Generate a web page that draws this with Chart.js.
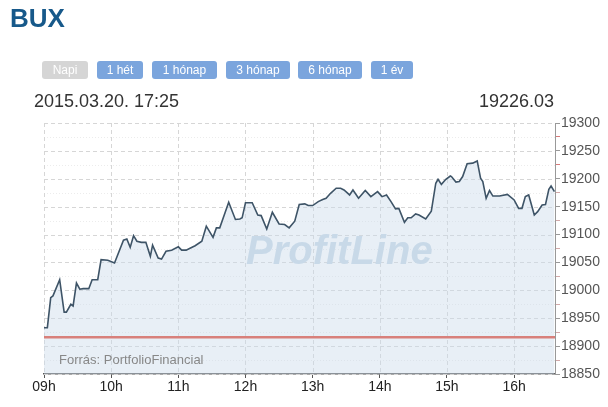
<!DOCTYPE html>
<html><head><meta charset="utf-8">
<script src="https://cdn.jsdelivr.net/npm/chart.js@4.4.1/dist/chart.umd.min.js"></script>
<style>
html,body{margin:0;padding:0;background:#fff;width:608px;height:407px;overflow:hidden;font-family:"Liberation Sans",Arial,sans-serif;}
#c{position:absolute;left:0;top:0;}
.t{position:absolute;white-space:nowrap;}
#bux{left:10px;top:5px;font-size:26px;line-height:26px;font-weight:bold;color:#17598a;}
.btn{position:absolute;top:61px;height:18px;line-height:18px;border-radius:3px;background:#7ba5dd;color:#fff;font-size:12px;text-align:center;}
.btn.off{background:#d5d5d5;}
#date{left:34px;top:92px;font-size:18px;line-height:18px;color:#333;}
#val{right:54px;top:92px;font-size:18px;line-height:18px;color:#333;}
#wm{left:246px;top:230px;font-size:40px;line-height:40px;font-weight:bold;font-style:italic;color:#c8d9e8;}
#src{left:59px;top:353px;font-size:13px;line-height:13px;color:#888;}
</style>
</head><body>
<canvas id="c" width="608" height="407"></canvas>
<div class="t" id="bux">BUX</div>
<div id="btns"></div>
<div class="t" id="date">2015.03.20. 17:25</div>
<div class="t" id="val">19226.03</div>
<div class="t" id="wm">ProfitLine</div>
<div class="t" id="src">Forrás: PortfolioFinancial</div>
<script>
// ---- data ----
const timeMinutes = [0,3,6,8,14,18,20,24,26,29,32,35,40,43,48,51,57,63,71,74,77,80,83,87,91,95,97,102,105,109,114,120,123,127,130,135,141,145,151,154,157,165,171,175,177,180,186,191,194,199,204,210,215,219,224,228,233,236,240,245,249,252,256,261,265,268,273,276,281,287,292,298,302,306,310,314,317,322,325,328,332,335,341,346,350,352,355,359,363,364,368,371,374,378,383,387,390,392,395,398,401,407,414,420,424,427,430,433,438,441,445,448,451,453,456];
const buxValues = [18933,18933,18987,18990,19019,18961,18961,18975,18972,19013,19002,19003,19003,19019,19019,19055,19054,19049,19090,19092,19077,19098,19088,19086,19086,19061,19081,19058,19056,19070,19072,19078,19072,19072,19075,19080,19088,19115,19095,19112,19112,19158,19127,19128,19130,19157,19157,19135,19134,19110,19140,19119,19118,19112,19124,19154,19155,19152,19152,19159,19163,19165,19174,19183,19183,19180,19171,19180,19165,19179,19168,19177,19168,19171,19159,19146,19147,19122,19130,19130,19137,19135,19128,19142,19192,19199,19190,19199,19205,19204,19194,19195,19204,19227,19228,19232,19201,19195,19165,19179,19169,19169,19172,19162,19147,19147,19168,19171,19135,19141,19153,19154,19181,19187,19177];
const prevClose = 18916;
const xMaxMinutes = 456.5;
const hourTicks = [0,60,120,180,240,300,360,420];
const hourLabels = ['09h','10h','11h','12h','13h','14h','15h','16h'];
const yMin = 18850, yMax = 19300;
const yTickValues = [18850,18875,18900,18925,18950,18975,19000,19025,19050,19075,19100,19125,19150,19175,19200,19225,19250,19275,19300];
const buttonLabels = ['Napi','1 hét','1 hónap','3 hónap','6 hónap','1 év'];
const buttonLeft = [42,97,152,226,298,371];
const buttonWidth = [46,46,65,64,64,42];

// buttons
const bc = document.getElementById('btns');
buttonLabels.forEach((l,i)=>{
  const d=document.createElement('div');
  d.className='btn'+(i===0?' off':'');
  d.style.left=buttonLeft[i]+'px'; d.style.width=buttonWidth[i]+'px';
  d.textContent=l; bc.appendChild(d);
});

const gridPlugin = {
  id:'gridPlugin',
  beforeDatasetsDraw(chart){
    const {ctx, chartArea:a, scales:{x,y}} = chart;
    ctx.save();
    ctx.lineWidth=1;
    yTickValues.forEach(v=>{
      const py=Math.round(y.getPixelForValue(v))+0.5;
      const major = v%50===0;
      ctx.strokeStyle = major ? '#d6d6d6' : '#ececec';
      ctx.setLineDash(major ? [4,3] : [1,2]);
      ctx.beginPath(); ctx.moveTo(a.left,py); ctx.lineTo(a.right,py); ctx.stroke();
    });
    hourTicks.forEach(v=>{
      const px=Math.round(x.getPixelForValue(v))+0.5;
      ctx.strokeStyle='#d6d6d6'; ctx.setLineDash([4,3]);
      ctx.beginPath(); ctx.moveTo(px,a.top); ctx.lineTo(px,a.bottom); ctx.stroke();
    });
    ctx.restore();
  }
};

new Chart(document.getElementById('c'), {
  type:'line',
  data:{datasets:[
    {data:timeMinutes.map((t,i)=>({x:t,y:buxValues[i]})), borderColor:'#3e5467', borderWidth:1.6,
     fill:'start', backgroundColor:'rgba(204,219,235,0.45)', pointRadius:0, tension:0, order:1},
    {data:[{x:0,y:prevClose},{x:xMaxMinutes,y:prevClose}], borderColor:'#d8807b', borderWidth:2.5,
     fill:false, pointRadius:0, order:0}
  ]},
  options:{
    responsive:false, animation:false,
    layout:{padding:{left:44,top:123,right:0,bottom:0}},
    plugins:{legend:{display:false}, tooltip:{enabled:false}},
    scales:{
      x:{type:'linear', min:0, max:xMaxMinutes,
        afterBuildTicks:s=>{s.ticks=hourTicks.map(v=>({value:v}));},
        afterFit:s=>{s.height=33;},
        ticks:{autoSkip:false, maxRotation:0, padding:1, color:'#222',
          font:{family:'"Liberation Sans", Arial, sans-serif', size:14},
          callback:v=>hourLabels[hourTicks.indexOf(v)]},
        grid:{drawOnChartArea:false, drawTicks:true, tickLength:4, tickColor:'#555'},
        border:{display:true, color:'#555', width:1.5}
      },
      y:{type:'linear', position:'right', min:yMin, max:yMax,
        afterBuildTicks:s=>{s.ticks=yTickValues.map(v=>({value:v}));},
        afterFit:s=>{s.width=53;},
        ticks:{autoSkip:false, padding:1, color:'#555',
          font:{family:'"Liberation Sans", Arial, sans-serif', size:14},
          callback:v=> v%50===0 ? String(v) : ''},
        grid:{drawOnChartArea:false, drawTicks:true, tickLength:5,
          tickColor:c=> (c.tick && c.tick.value%50!==0) ? (c.tick.value>19200 ? '#d77a7a' : '#d2a9a9') : '#999'},
        border:{display:true, color:'#999', width:1}
      }
    }
  },
  plugins:[gridPlugin]
});
</script>
</body></html>
